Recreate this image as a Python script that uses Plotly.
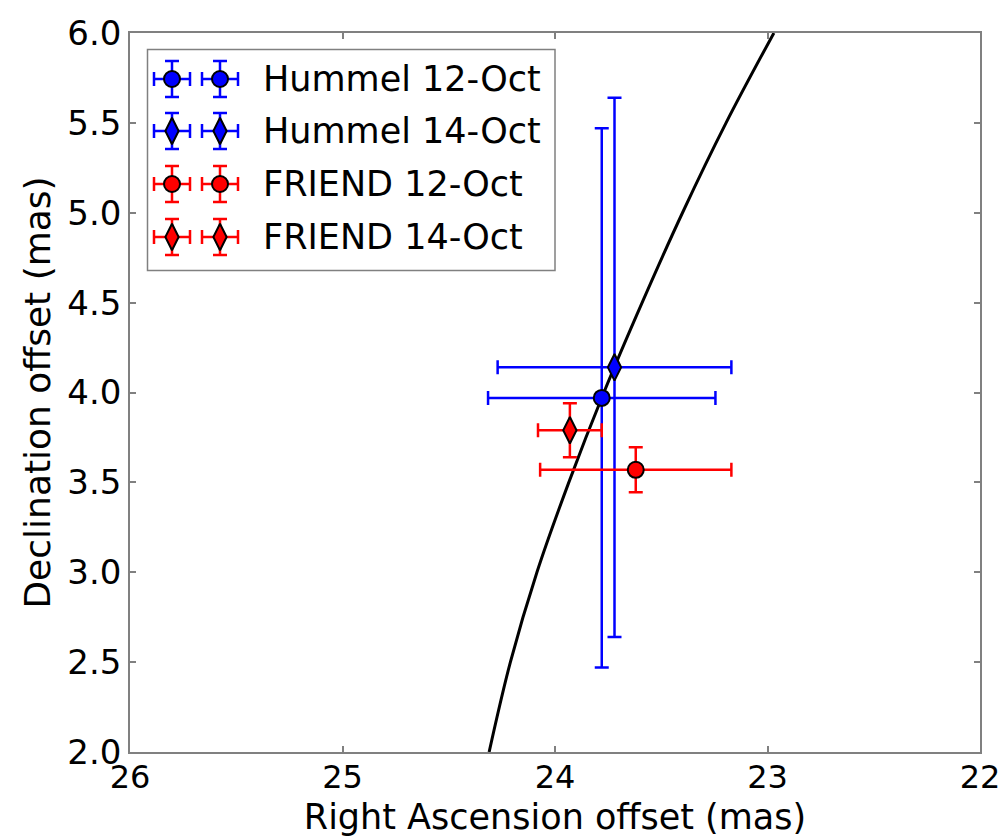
import plotly.graph_objects as go

# Astrometric offsets of the occultation fits
series_names = ["Hummel 12-Oct", "Hummel 14-Oct", "FRIEND 12-Oct", "FRIEND 14-Oct"]
ra_offset = [23.78, 23.72, 23.62, 23.93]
dec_offset = [3.97, 4.14, 3.57, 3.79]
ra_error = [0.535, 0.55, 0.45, 0.15]
dec_error = [1.50, 1.50, 0.125, 0.15]
series_colors = ["#0000ff", "#0000ff", "#ff0000", "#ff0000"]
series_symbols = ["circle", "diamond-tall", "circle", "diamond-tall"]

# Orbit track across the field
track_dec = [2.0, 2.5, 3.0, 3.5, 4.0, 4.5, 5.0, 5.5, 6.0]
track_ra = [24.31, 24.21, 24.085, 23.935, 23.77, 23.59, 23.40, 23.195, 22.97]

x_ticks = [26, 25, 24, 23, 22]
y_ticks = [2.0, 2.5, 3.0, 3.5, 4.0, 4.5, 5.0, 5.5, 6.0]

W, H = 1005, 837
ML, MR, MT, MB = 130, 25, 33, 85
PW, PH = W - ML - MR, H - MT - MB

FONT = "DejaVu Sans"
AXCOL = "#808080"

fig = go.Figure()

fig.add_trace(go.Scatter(
    x=track_ra, y=track_dec, mode="lines",
    line=dict(color="black", width=3, shape="spline", smoothing=1.0),
    showlegend=False, hoverinfo="skip"))

for i in range(len(series_names)):
    fig.add_trace(go.Scatter(
        x=[ra_offset[i]], y=[dec_offset[i]], mode="markers", name=series_names[i],
        marker=dict(symbol=series_symbols[i], color=series_colors[i],
                    size=16 if series_symbols[i] == "circle" else 19,
                    line=dict(color="black", width=2)),
        error_x=dict(type="data", array=[ra_error[i]], color=series_colors[i], thickness=2.5, width=7),
        error_y=dict(type="data", array=[dec_error[i]], color=series_colors[i], thickness=2.5, width=7),
        showlegend=False))

# Legend drawn on an overlay axis spanning the plot area (0..1 each way)
def px_x(p):
    return (p - ML) / PW

def px_y(p):
    return 1 - (p - MT) / PH

leg_rows = [79, 131, 184, 237]
leg_cols = [172, 220]
arm = 18
for i, name in enumerate(series_names):
    fig.add_trace(go.Scatter(
        x=[px_x(c) for c in leg_cols], y=[px_y(leg_rows[i])] * 2, mode="markers",
        xaxis="x2", yaxis="y2", showlegend=False, hoverinfo="skip",
        marker=dict(symbol=series_symbols[i], color=series_colors[i],
                    size=16 if series_symbols[i] == "circle" else 19,
                    line=dict(color="black", width=2)),
        error_x=dict(type="constant", value=arm / PW, color=series_colors[i], thickness=2.5, width=7),
        error_y=dict(type="constant", value=arm / PH, color=series_colors[i], thickness=2.5, width=7)))
    fig.add_annotation(x=px_x(261), y=px_y(leg_rows[i]), xref="x2", yref="y2", text=name,
                       showarrow=False, xanchor="left", yanchor="middle",
                       font=dict(family=FONT, size=35, color="black"))

fig.add_shape(type="rect", xref="x2", yref="y2",
              x0=px_x(147.5), x1=px_x(555), y0=px_y(49.5), y1=px_y(270.5),
              line=dict(color=AXCOL, width=1.5), fillcolor="rgba(0,0,0,0)", layer="below")

axis_common = dict(showgrid=False, zeroline=False, showline=True, linecolor=AXCOL, linewidth=1.5,
                   mirror="ticks", ticks="inside", ticklen=6, tickwidth=1.5, tickcolor=AXCOL,
                   automargin=False)

fig.update_layout(
    width=W, height=H, margin=dict(l=ML, r=MR, t=MT, b=MB),
    paper_bgcolor="white", plot_bgcolor="white", showlegend=False,
    font=dict(family=FONT, color="black"),
    xaxis=dict(range=[26, 22], tickvals=x_ticks, ticktext=[str(v) for v in x_ticks],
               tickfont=dict(family=FONT, size=32, color="black"), ticklabelstandoff=-4,
               title=dict(text="Right Ascension offset (mas)",
                          font=dict(family=FONT, size=35, color="black"), standoff=14),
               **axis_common),
    yaxis=dict(range=[2.0, 6.0], tickvals=y_ticks, ticktext=[f"{v:.1f}" for v in y_ticks],
               tickfont=dict(family=FONT, size=34, color="black"),
               title=dict(text="Declination offset (mas)",
                          font=dict(family=FONT, size=36, color="black"), standoff=6),
               **axis_common),
    xaxis2=dict(overlaying="x", range=[0, 1], visible=False, fixedrange=True),
    yaxis2=dict(overlaying="y", range=[0, 1], visible=False, fixedrange=True),
)

fig.write_html("out.html")
